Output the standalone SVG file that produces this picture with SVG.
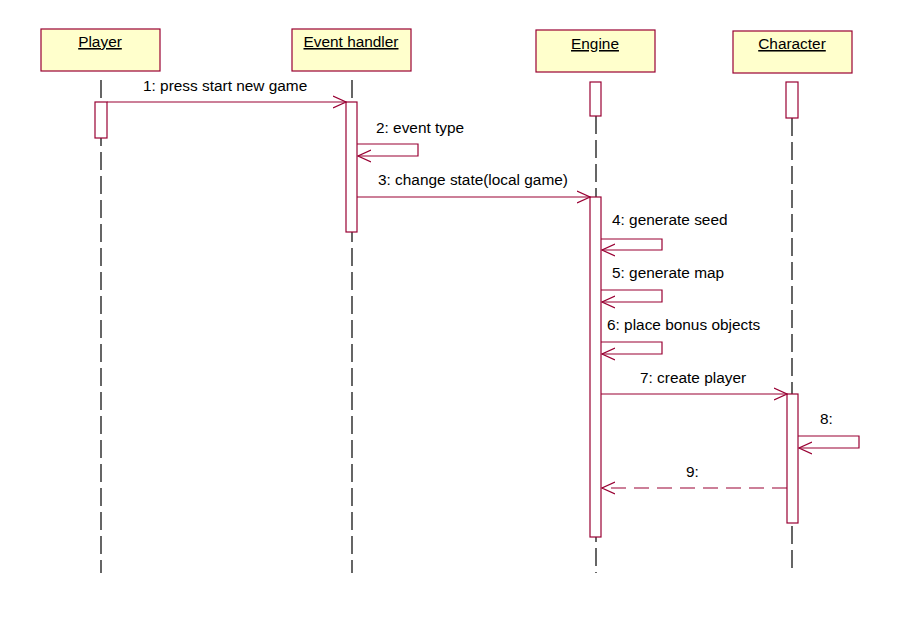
<svg xmlns="http://www.w3.org/2000/svg" width="903" height="639" viewBox="0 0 903 639">
<style>
.box{fill:#FFFFCC;stroke:#990033;stroke-width:1.2}
.act{fill:#FFFFFF;stroke:#990033;stroke-width:1.2}
.life{stroke:#000;stroke-width:1.2;stroke-dasharray:18 6;fill:none}
.msg{stroke:#990033;stroke-width:1.2;fill:none;marker-end:url(#arr)}
.ret{stroke-dasharray:15 8}
.name{font-family:"Liberation Sans",Arial,sans-serif;font-size:15.4px;fill:#000;text-anchor:middle;text-decoration:underline}
.lbl{font-family:"Liberation Sans",Arial,sans-serif;font-size:15.4px;fill:#000}
</style>
<defs>
<marker id="arr" markerUnits="userSpaceOnUse" viewBox="0 0 14 14" markerWidth="14" markerHeight="14" refX="13" refY="7" orient="auto">
<path d="M0,1 L13,7 L0,13" fill="none" stroke="#990033" stroke-width="1.2"/>
</marker>
</defs>
<rect width="903" height="639" fill="#fff"/>
<g id="player">
<rect class="box" x="41" y="29" width="119" height="42"/>
<text class="name" x="100" y="47">Player</text>
<line class="life" x1="101" y1="80" x2="101" y2="573"/>
<rect class="act" x="95" y="102" width="12" height="36"/>
</g>
<g id="event-handler">
<rect class="box" x="292" y="29" width="119" height="42"/>
<text class="name" x="351" y="47">Event handler</text>
<line class="life" x1="352" y1="80" x2="352" y2="573"/>
<rect class="act" x="346" y="102" width="11" height="130"/>
</g>
<g id="engine">
<rect class="box" x="536" y="30" width="119" height="42"/>
<text class="name" x="595" y="49">Engine</text>
<line class="life" x1="596" y1="116" x2="596" y2="573"/>
<rect class="act" x="590" y="82" width="11" height="34"/>
<rect class="act" x="590" y="197" width="11" height="340"/>
</g>
<g id="character">
<rect class="box" x="733" y="31" width="119" height="42"/>
<text class="name" x="792" y="49">Character</text>
<line class="life" x1="792" y1="118" x2="792" y2="573"/>
<rect class="act" x="786" y="82" width="12" height="36"/>
<rect class="act" x="787" y="394" width="11" height="129"/>
</g>
<g id="connectors">
<line class="msg" x1="107" y1="102" x2="346" y2="102"/>
<text class="lbl" x="143" y="91">1: press start new game</text>
<path class="msg" d="M357,144 H418 V156 H358"/>
<text class="lbl" x="376" y="133">2: event type</text>
<line class="msg" x1="357" y1="197" x2="590" y2="197"/>
<text class="lbl" x="378" y="185">3: change state(local game)</text>
<path class="msg" d="M601,239 H662 V250 H602"/>
<text class="lbl" x="612" y="225">4: generate seed</text>
<path class="msg" d="M601,290 H662 V302 H602"/>
<text class="lbl" x="612" y="278">5: generate map</text>
<path class="msg" d="M601,342 H662 V354 H602"/>
<text class="lbl" x="607" y="330">6: place bonus objects</text>
<line class="msg" x1="601" y1="394" x2="787" y2="394"/>
<text class="lbl" x="640" y="383">7: create player</text>
<path class="msg" d="M798,436 H859 V448 H799"/>
<text class="lbl" x="820" y="424">8:</text>
<line class="msg ret" x1="787" y1="488" x2="602" y2="488"/>
<text class="lbl" x="686" y="477">9:</text>
</g>
</svg>
